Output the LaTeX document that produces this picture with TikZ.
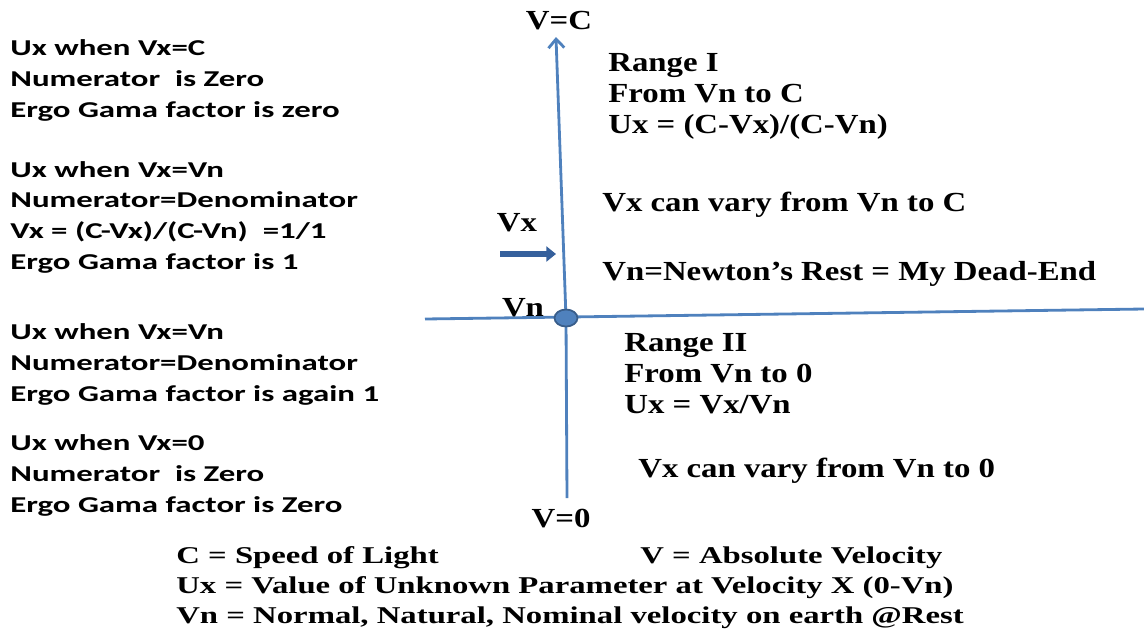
\documentclass[tikz,border=0pt]{standalone}
\usepackage{fontspec}
\setmainfont{Liberation Serif}
\newfontfamily\calfont[FakeStretch=1.45]{Carlito}
\newfontfamily\rangefont[FakeStretch=1.19]{Liberation Serif}
\newfontfamily\legendfont[FakeStretch=1.36]{Liberation Serif}
\usetikzlibrary{positioning, arrows.meta, shapes.geometric}
\usepackage{xcolor}
\definecolor{axisblue}{HTML}{4F81BD}
\definecolor{arrowblue}{HTML}{35609C}
\definecolor{dotedge}{HTML}{385D8A}
\tikzstyle{note} = [
inner sep=0pt,
align=left,
anchor=base west,
font=\calfont\bfseries\fontsize{12.9}{17.4}\selectfont
]
\tikzstyle{rangetext} = [
inner sep=0pt,
align=left,
anchor=base west,
font=\rangefont\bfseries\fontsize{15.7}{17.6}\selectfont
]
\tikzstyle{legend} = [
inner sep=0pt,
anchor=base west,
font=\legendfont\bfseries\fontsize{13.7}{17}\selectfont
]
\tikzstyle{axis}=[axisblue, line width=1.6pt]
\tikzstyle{arrow}=[-{Triangle[length=5.5pt,width=8.5pt]}, arrowblue, line width=3.2pt]

\begin{document}
\begin{tikzpicture}[x=0.02cm, y=-0.02cm]
        \useasboundingbox (0,0) rectangle (1144,630);

        % axes
        \coordinate (top) at (556,37);
        \coordinate (bottom) at (567,498);
        \coordinate (left) at (425,319);
        \coordinate (right) at (1144,309);
        \coordinate (o) at (566,318);

        \draw[axis] (left) -- (right);
        \draw[axis, -{Straight Barb[length=5pt,width=9pt]}] (bottom) -- (o) -- (top);

        \node(dot)[ellipse, fill=axisblue, draw=dotedge, line width=1pt,
        minimum width=0.46cm, minimum height=0.34cm, inner sep=0pt] at (o) {};

        \coordinate (vxtail) at (500,254);
        \coordinate (vxhead) at (556,254);
        \draw[arrow] (vxtail) -- (vxhead);

        % axis labels
        \node(vc)[rangetext, anchor=base] at (559,29) {V=C};
        \node(vzero)[rangetext, anchor=base] at (561,527) {V=0};
        \node(vn)[rangetext, anchor=base] at (523,316) {Vn};
        \node(vx)[rangetext, anchor=base] at (517,231) {Vx};

        % right side (base = last line)
        \node(rangeone)[rangetext] at (608,133)
        {Range I\\From Vn to C\\Ux = (C-Vx)/(C-Vn)};

        \node(varyc)[rangetext] at (602,211)
        {Vx can vary from Vn to C};

        \node(newton)[rangetext] at (602,280)
        {Vn=Newton’s Rest = My Dead-End};

        \node(rangetwo)[rangetext] at (624,413)
        {Range II\\From Vn to 0\\Ux = Vx/Vn};

        \node(varyzero)[rangetext] at (638,477)
        {Vx can vary from Vn to 0};

        % left side (base = last line)
        \node(atc)[note] at (10,117)
        {Ux when Vx=C\\Numerator\ \ is Zero\\Ergo Gama factor is zero};

        \node(atvn)[note] at (10,269)
        {Ux when Vx=Vn\\Numerator=Denominator\\Vx = (C-Vx)/(C-Vn)\ \ =1/1\\Ergo Gama factor is 1};

        \node(atvnb)[note] at (10,401)
        {Ux when Vx=Vn\\Numerator=Denominator\\Ergo Gama factor is again 1};

        \node(atzero)[note] at (10,512)
        {Ux when Vx=0\\Numerator\ \ is Zero\\Ergo Gama factor is Zero};

        % legend
        \node(legc)[legend] at (176,563) {C = Speed of Light};
        \node(legv)[legend] at (640,563) {V = Absolute Velocity};
        \node(legux)[legend] at (176,593) {Ux = Value of Unknown Parameter at Velocity X (0-Vn)};
        \node(legvn)[legend] at (176,623) {Vn = Normal, Natural, Nominal velocity on earth @Rest};

\end{tikzpicture}
\end{document}
